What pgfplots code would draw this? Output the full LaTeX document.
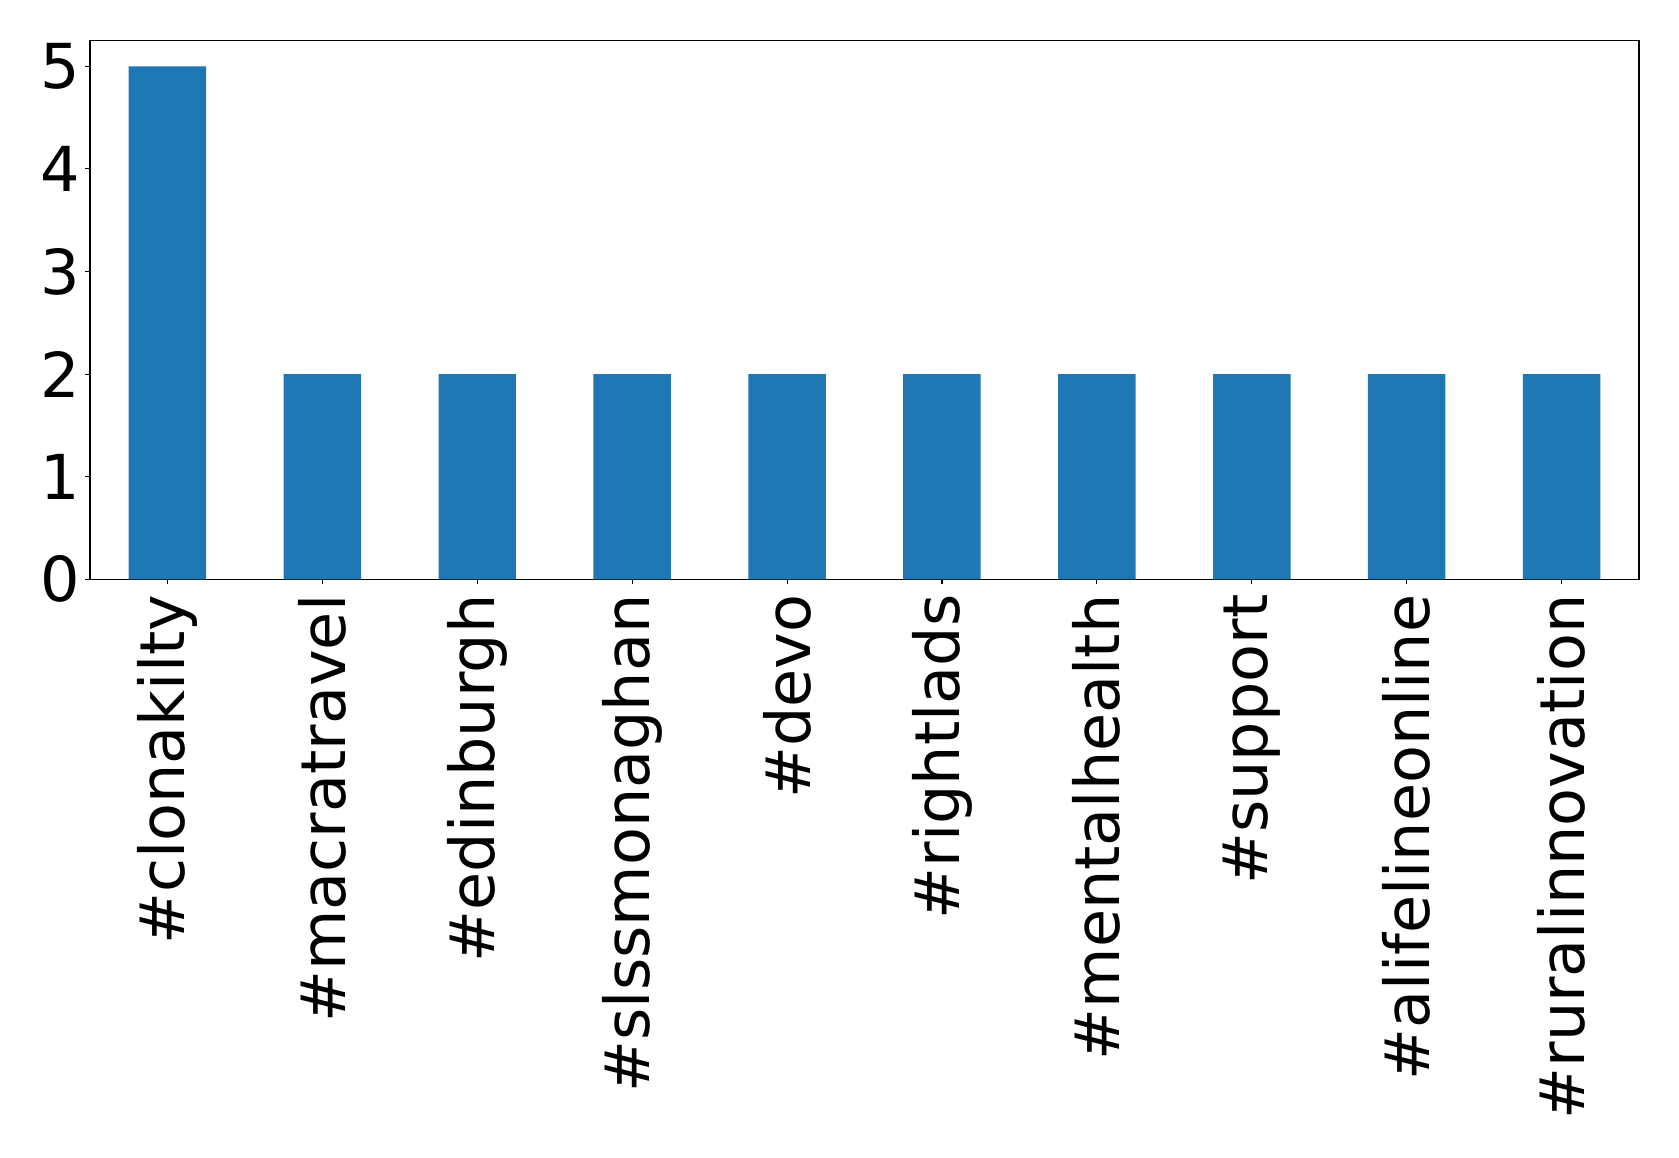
\documentclass[border=0pt]{standalone}
\usepackage{fontspec}
\setmainfont{DejaVu Sans}
\usepackage{pgfplots}
\pgfplotsset{compat=1.18}
\definecolor{barblue}{HTML}{1F77B4}
\begin{document}
\begin{tikzpicture}
\begin{axis}[
  scale only axis,
  width=774.5pt, height=269.3pt,
  xmin=-0.5, xmax=9.5, ymin=0, ymax=5.25,
  ybar, bar width=0.5,
  axis line style={line width=0.55pt},
  every tick/.style={black, line width=0.55pt},
  tick align=outside, major tick length=2.5pt,
  tick pos=left,
  xtick={0,...,9},
  xticklabels={\#clonakilty,\#macratravel,\#edinburgh,\#slssmonaghan,\#devo,\#rightlads,\#mentalhealth,\#support,\#alifelineonline,\#ruralinnovation},
  ytick={0,...,5},
  tick label style={font=\fontsize{31}{37}\selectfont},
  /pgf/number format/assume math mode=true,
  xticklabel style={rotate=90, anchor=east, inner sep=5pt},
  yticklabel style={inner sep=2.45pt},
]
\addplot[fill=barblue, draw=none] coordinates {
  (0,5) (1,2) (2,2) (3,2) (4,2) (5,2) (6,2) (7,2) (8,2) (9,2)
};
\end{axis}
\pgfresetboundingbox
\useasboundingbox (-45pt,-288.85pt) rectangle (794.5pt,289.65pt);
\end{tikzpicture}
\end{document}
